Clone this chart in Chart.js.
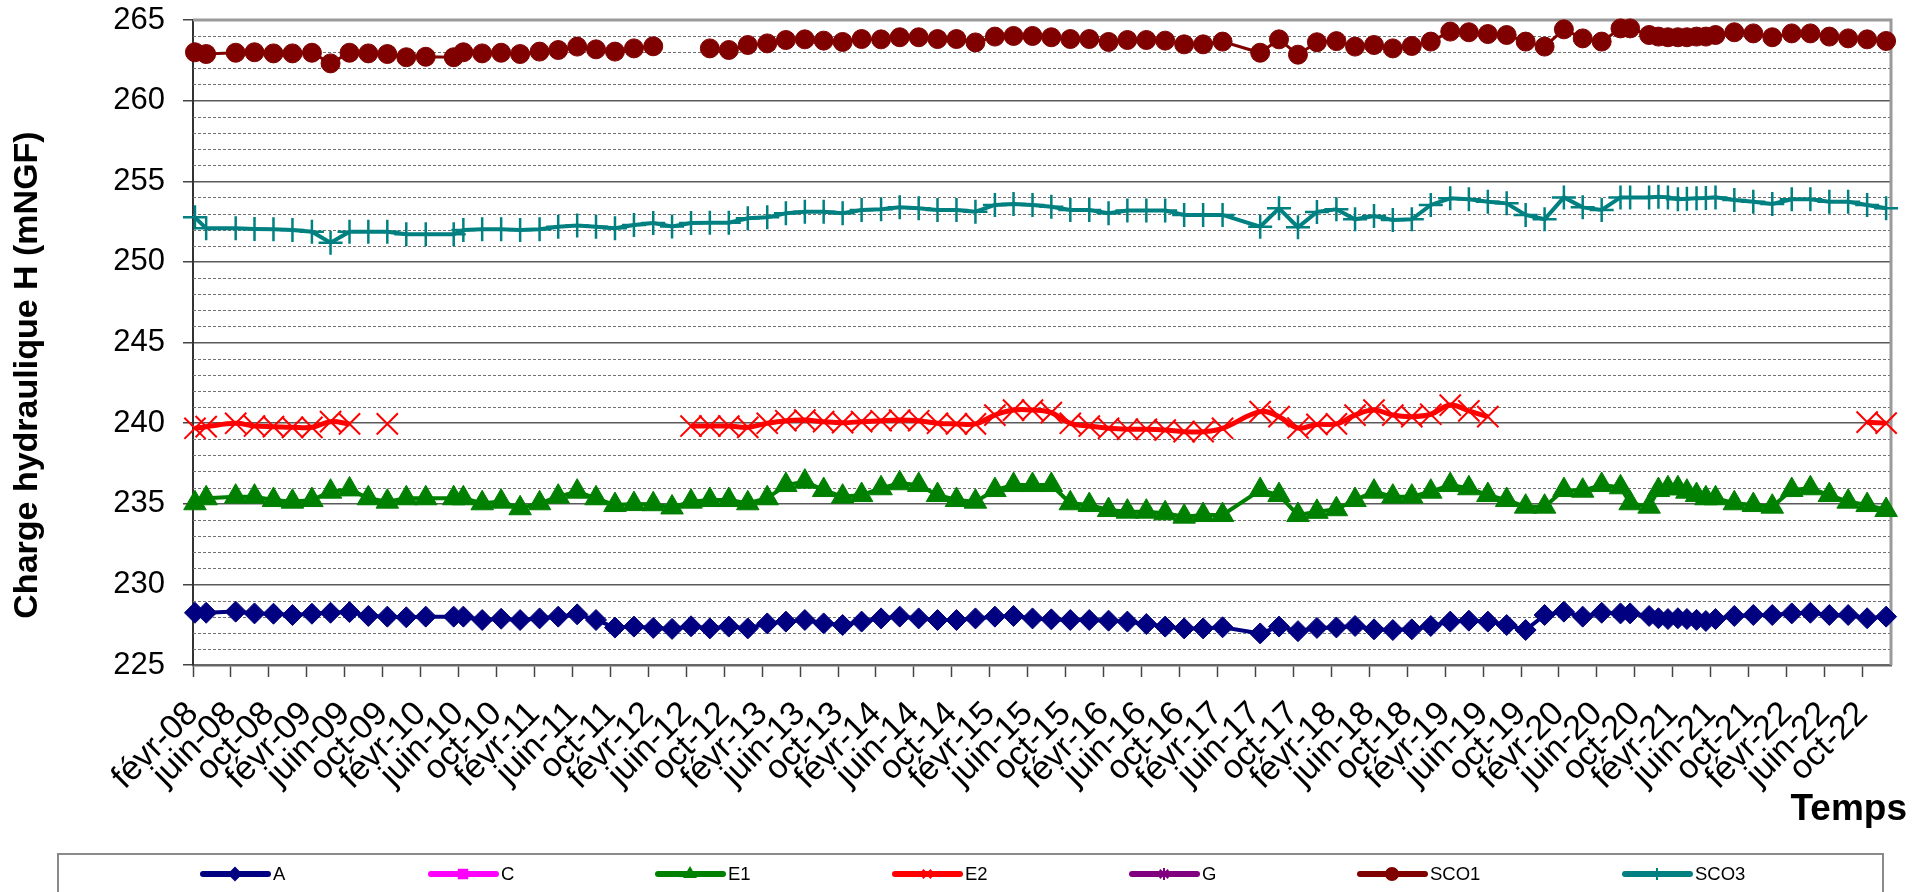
<!DOCTYPE html>
<html lang="fr">
<head>
<meta charset="UTF-8" />
<title>Charge hydraulique H</title>
<style>
  body { margin: 0; background: #fff; overflow: hidden; }
  #wrap { position: relative; width: 1930px; height: 892px; }
</style>
</head>
<body>
<div id="wrap"><canvas id="chart"></canvas></div>
<script src="https://cdn.jsdelivr.net/npm/chart.js@4/dist/chart.umd.min.js"></script>
<script>
// Measurement dates (one column per field campaign)
const dates = [
  '2008-02-07', '2008-03-13', '2008-06-16', '2008-08-16', '2008-10-16', '2008-12-16',
  '2009-02-16', '2009-04-16', '2009-06-16', '2009-08-16', '2009-10-16', '2009-12-16',
  '2010-02-16', '2010-05-16', '2010-06-16', '2010-08-16', '2010-10-16', '2010-12-16',
  '2011-02-16', '2011-04-16', '2011-06-16', '2011-08-16', '2011-10-16', '2011-12-16',
  '2012-02-16', '2012-04-16', '2012-06-16', '2012-08-16', '2012-10-16', '2012-12-16',
  '2013-02-16', '2013-04-16', '2013-06-16', '2013-08-16', '2013-10-16', '2013-12-16',
  '2014-02-16', '2014-04-16', '2014-06-16', '2014-08-16', '2014-10-16', '2014-12-16',
  '2015-02-16', '2015-04-16', '2015-06-16', '2015-08-16', '2015-10-16', '2015-12-16',
  '2016-02-16', '2016-04-16', '2016-06-16', '2016-08-16', '2016-10-16', '2016-12-16',
  '2017-02-16', '2017-06-16', '2017-08-16', '2017-10-16', '2017-12-16',
  '2018-02-16', '2018-04-16', '2018-06-16', '2018-08-16', '2018-10-16', '2018-12-16',
  '2019-02-16', '2019-04-16', '2019-06-16', '2019-08-16', '2019-10-16', '2019-12-16',
  '2020-02-16', '2020-04-16', '2020-06-16', '2020-08-16', '2020-09-16', '2020-11-16',
  '2020-12-16', '2021-01-16', '2021-02-16', '2021-03-16', '2021-04-16', '2021-05-16',
  '2021-06-16', '2021-08-16', '2021-10-16', '2021-12-16',
  '2022-02-16', '2022-04-16', '2022-06-16', '2022-08-16', '2022-10-16', '2022-12-16'
];

// Hydraulic head per piezometer (mNGF), null = no reading
const hA = [
  228.24, 228.24, 228.31, 228.20, 228.18, 228.10, 228.18, 228.24, 228.28, 228.04, 228.00, 227.96,
  228.00, 228.00, 228.00, 227.79, 227.87, 227.79, 227.89, 228.00, 228.14, 227.79, 227.32, 227.38,
  227.30, 227.24, 227.40, 227.27, 227.38, 227.27, 227.58, 227.69, 227.79, 227.58, 227.48, 227.69,
  227.89, 228.00, 227.89, 227.79, 227.79, 227.89, 228.00, 228.04, 227.89, 227.83, 227.79, 227.79,
  227.75, 227.69, 227.54, 227.38, 227.27, 227.27, 227.34, 226.96, 227.38, 227.10, 227.30,
  227.33, 227.42, 227.21, 227.17, 227.21, 227.42, 227.69, 227.75, 227.69, 227.48, 227.17, 228.10,
  228.31, 228.00, 228.24, 228.20, 228.20, 228.04, 227.90, 227.85, 227.90, 227.85, 227.80, 227.73,
  227.85, 228.04, 228.10, 228.10, 228.20, 228.24, 228.10, 228.10, 227.90, 228.00
];
const hC = [];
const hE1 = [
  235.03, 235.34, 235.44, 235.44, 235.23, 235.13, 235.23, 235.75, 235.89, 235.34, 235.13, 235.34,
  235.34, 235.34, 235.34, 235.03, 235.13, 234.72, 235.03, 235.44, 235.75, 235.34, 234.92, 234.98,
  234.97, 234.77, 235.13, 235.23, 235.23, 235.03, 235.34, 236.16, 236.37, 235.85, 235.44, 235.54,
  235.96, 236.27, 236.16, 235.54, 235.23, 235.13, 235.85, 236.16, 236.16, 236.16, 235.03, 234.92,
  234.61, 234.51, 234.51, 234.41, 234.20, 234.30, 234.30, 235.85, 235.54, 234.30, 234.50,
  234.66, 235.23, 235.75, 235.44, 235.44, 235.75, 236.16, 235.96, 235.54, 235.23, 234.82, 234.82,
  235.85, 235.81, 236.16, 236.02, 235.03, 234.82, 235.85, 235.96, 235.96, 235.75, 235.54, 235.34,
  235.34, 235.03, 234.92, 234.82, 235.85, 235.96, 235.54, 235.13, 234.92, 234.61
];
const hE2 = [
  239.68, 239.78, 239.99, 239.82, 239.78, 239.74, 239.74, 240.09, 239.95, null, 239.95, null,
  null, null, null, null, null, null, null, null, null, null, null, null,
  null, null, 239.82, 239.82, 239.82, 239.74, 239.99, 240.15, 240.19, 240.09, 240.03, 240.09,
  240.15, 240.19, 240.15, 239.99, 239.95, 239.95, 240.50, 240.81, 240.81, 240.65, 239.99, 239.82,
  239.68, 239.62, 239.62, 239.57, 239.47, 239.47, 239.68, 240.71, 240.40, 239.70, 239.92,
  239.95, 240.50, 240.81, 240.50, 240.40, 240.55, 241.12, 240.76, 240.40, null, null, null,
  null, null, null, null, null, null, null, null, null, null, null, null,
  null, null, null, null, null, null, null, null, 240.06, 240.00
];
const hG = [];
const hSCO1 = [
  263.00, 262.89, 262.97, 263.00, 262.93, 262.93, 262.97, 262.31, 262.97, 262.93, 262.89, 262.69,
  262.72, 262.69, 263.00, 262.93, 262.97, 262.89, 263.04, 263.14, 263.35, 263.18, 263.04, 263.24,
  263.37, null, null, 263.24, 263.14, 263.45, 263.55, 263.76, 263.80, 263.72, 263.64, 263.82,
  263.80, 263.93, 263.93, 263.82, 263.82, 263.61, 263.97, 264.01, 264.01, 263.93, 263.82, 263.82,
  263.64, 263.76, 263.76, 263.72, 263.49, 263.49, 263.66, 262.97, 263.80, 262.85, 263.62,
  263.69, 263.35, 263.45, 263.24, 263.39, 263.66, 264.28, 264.24, 264.13, 264.07, 263.66, 263.35,
  264.42, 263.86, 263.66, 264.48, 264.48, 264.07, 263.97, 263.93, 263.93, 263.93, 263.97, 263.97,
  264.07, 264.24, 264.17, 263.93, 264.17, 264.17, 263.97, 263.86, 263.80, 263.70
];
const hSCO3 = [
  252.76, 252.08, 252.08, 252.04, 252.02, 251.98, 251.87, 251.19, 251.87, 251.87, 251.87, 251.71,
  251.71, 251.71, 251.98, 252.02, 252.02, 251.98, 252.02, 252.18, 252.25, 252.18, 252.08, 252.29,
  252.41, 252.20, 252.41, 252.43, 252.43, 252.70, 252.76, 253.01, 253.11, 253.11, 253.01, 253.22,
  253.26, 253.38, 253.32, 253.22, 253.22, 253.11, 253.53, 253.59, 253.53, 253.42, 253.22, 253.22,
  253.01, 253.18, 253.18, 253.18, 252.91, 252.91, 252.91, 252.18, 253.32, 252.15, 253.10,
  253.26, 252.64, 252.84, 252.60, 252.64, 253.53, 253.94, 253.88, 253.73, 253.63, 252.91, 252.64,
  254.00, 253.38, 253.22, 254.00, 254.00, 254.00, 254.04, 254.00, 253.88, 253.92, 253.94, 253.96,
  254.00, 253.84, 253.73, 253.59, 253.88, 253.88, 253.73, 253.73, 253.53, 253.32
];

// Date axis labels, one every four months from févr-08
const tickLabels = [
  'févr-08', 'juin-08', 'oct-08', 'févr-09', 'juin-09', 'oct-09', 'févr-10', 'juin-10', 'oct-10',
  'févr-11', 'juin-11', 'oct-11', 'févr-12', 'juin-12', 'oct-12', 'févr-13', 'juin-13', 'oct-13',
  'févr-14', 'juin-14', 'oct-14', 'févr-15', 'juin-15', 'oct-15', 'févr-16', 'juin-16', 'oct-16',
  'févr-17', 'juin-17', 'oct-17', 'févr-18', 'juin-18', 'oct-18', 'févr-19', 'juin-19', 'oct-19',
  'févr-20', 'juin-20', 'oct-20', 'févr-21', 'juin-21', 'oct-21', 'févr-22', 'juin-22', 'oct-22'
];

const FONT = "'Liberation Sans', Arial, sans-serif";

// months elapsed since 1 Feb 2008 (x axis unit)
function toMonths(d) {
  const [y, m, day] = d.split('-').map(Number);
  const dim = new Date(y, m, 0).getDate();
  return (y - 2008) * 12 + (m - 2) + (day - 1) / dim;
}
const xs = dates.map(toMonths);
const points = vals => vals.map((v, i) => ({ x: xs[i], y: v }));

function series(label, vals, color, style, radius, width, extra) {
  return Object.assign({
    label: label,
    data: points(vals),
    borderColor: color,
    backgroundColor: color,
    borderWidth: width,
    pointStyle: style,
    pointRadius: radius,
    pointBorderColor: color,
    pointBackgroundColor: color,
    pointBorderWidth: 1,
    tension: 0,
    spanGaps: false,
    clip: false
  }, extra || {});
}

const datasets = [
  series('A', hA, '#000080', 'rectRot', 10.5, 4),
  series('C', hC, '#FF00FF', 'rect', 8, 2),
  series('E1', hE1, '#008000', 'triangle', 13, 4),
  series('E2', hE2, '#FF0000', 'crossRot', 15, 5, { tension: 0.4, pointBorderWidth: 2 }),
  series('G', hG, '#800080', 'star', 8, 2),
  series('SCO1', hSCO1, '#800000', 'circle', 9.5, 3),
  series('SCO3', hSCO3, '#008080', 'cross', 12, 4, { pointBorderWidth: 2.5 })
];

// dotted minor lines every 1 m and the grey frame of the plot area
const plotDecor = {
  id: 'plotDecor',
  beforeDatasetsDraw(chart) {
    const { ctx, chartArea: a, scales: { y } } = chart;
    ctx.save();
    ctx.strokeStyle = '#707070';
    ctx.lineWidth = 1;
    ctx.setLineDash([3, 2]);
    for (let v = y.min + 1; v < y.max; v++) {
      if (v % 5 === 0) continue;
      const py = Math.round(y.getPixelForValue(v)) + 0.5;
      ctx.beginPath();
      ctx.moveTo(a.left, py);
      ctx.lineTo(a.right, py);
      ctx.stroke();
    }
    ctx.setLineDash([]);
    ctx.strokeStyle = '#9a9a9a';
    ctx.lineWidth = 3;
    ctx.beginPath();
    ctx.moveTo(a.left, a.top);
    ctx.lineTo(a.right, a.top);
    ctx.lineTo(a.right, a.bottom);
    ctx.stroke();
    ctx.restore();
  }
};

// axis titles
const axisTitles = {
  id: 'axisTitles',
  afterDraw(chart) {
    const ctx = chart.ctx;
    ctx.save();
    ctx.fillStyle = '#000';
    ctx.font = 'bold 34px ' + FONT;
    ctx.textAlign = 'center';
    ctx.textBaseline = 'middle';
    ctx.translate(28, 375);
    ctx.rotate(-Math.PI / 2);
    ctx.fillText('Charge hydraulique H (mNGF)', 0, 0);
    ctx.restore();

    ctx.save();
    ctx.fillStyle = '#000';
    ctx.font = 'bold 37px ' + FONT;
    ctx.textAlign = 'right';
    ctx.textBaseline = 'alphabetic';
    ctx.fillText('Temps', 1907, 820);
    ctx.restore();
  }
};

// boxed legend under the chart: line sample + marker + name
const legendLineStarts = [203, 431, 658, 895, 1132, 1360, 1625];
const boxLegend = {
  id: 'boxLegend',
  afterDraw(chart) {
    const ctx = chart.ctx;
    const cy = 874;
    ctx.save();
    ctx.strokeStyle = '#8a8a8a';
    ctx.lineWidth = 2;
    ctx.strokeRect(58, 854, 1825, 80);
    ctx.font = '18.5px ' + FONT;
    ctx.textBaseline = 'middle';
    chart.data.datasets.forEach((ds, i) => {
      const x0 = legendLineStarts[i];
      ctx.strokeStyle = ds.borderColor;
      ctx.fillStyle = ds.borderColor;
      ctx.lineWidth = 6;
      ctx.lineCap = 'round';
      ctx.beginPath();
      ctx.moveTo(x0, cy);
      ctx.lineTo(x0 + 65, cy);
      ctx.stroke();
      ctx.lineCap = 'butt';
      ctx.lineWidth = 2;
      Chart.helpers.drawPoint(ctx, { pointStyle: ds.pointStyle, radius: 6, rotation: 0, borderWidth: 2 }, x0 + 32, cy);
      ctx.fillStyle = '#000';
      ctx.fillText(ds.label, x0 + 70, cy + 1);
    });
    ctx.restore();
  }
};

new Chart(document.getElementById('chart'), {
  type: 'line',
  data: { datasets: datasets },
  plugins: [plotDecor, axisTitles, boxLegend],
  options: {
    responsive: true,
    maintainAspectRatio: false,
    animation: false,
    layout: { padding: { left: 0, top: 20, right: 39, bottom: 60 } },
    plugins: { legend: { display: false }, tooltip: { enabled: false } },
    scales: {
      x: {
        type: 'linear',
        min: 0,
        max: 179,
        afterBuildTicks: scale => {
          scale.ticks = tickLabels.map((_, i) => ({ value: i * 4 }));
        },
        afterFit: scale => { scale.height = 167; },
        ticks: {
          autoSkip: false,
          minRotation: 45,
          maxRotation: 45,
          padding: 17,
          color: '#000',
          font: { family: FONT, size: 34 },
          callback: (v, i) => tickLabels[i]
        },
        grid: { drawOnChartArea: false, tickLength: 12, tickColor: '#444', tickWidth: 1.5 },
        border: { color: '#666', width: 2.5 }
      },
      y: {
        min: 225,
        max: 265,
        afterFit: scale => {
          scale.width = 193;
          scale.paddingTop = 0;
        },
        ticks: {
          stepSize: 5,
          padding: 18,
          color: '#000',
          font: { family: FONT, size: 31 }
        },
        grid: { color: '#5a5a5a', lineWidth: 1.5, tickLength: 10, tickColor: '#444' },
        border: { color: '#333', width: 2 }
      }
    }
  }
});
</script>
</body>
</html>
